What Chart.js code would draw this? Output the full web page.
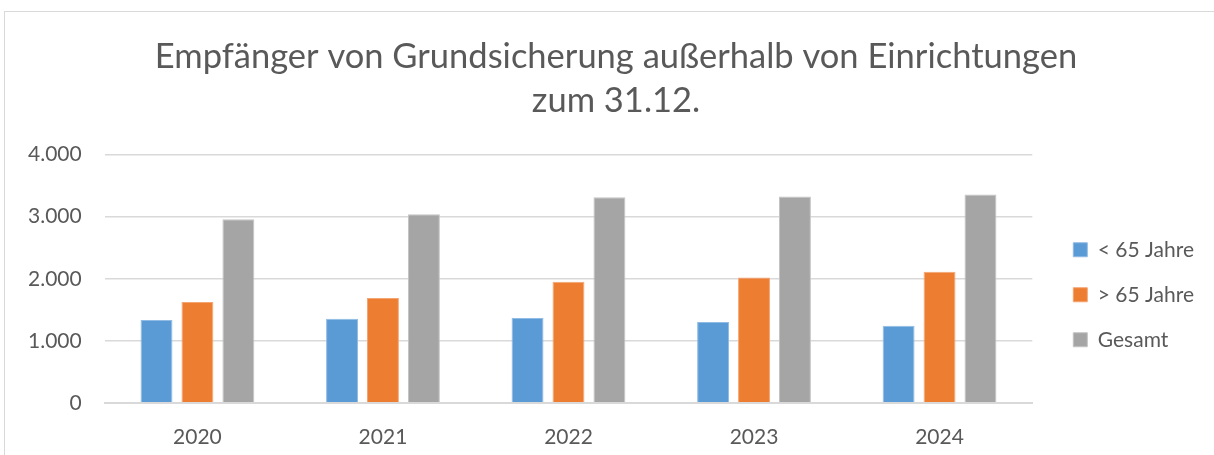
<!DOCTYPE html>
<html lang="de">
<head>
<meta charset="UTF-8">
<title>Grundsicherung außerhalb von Einrichtungen</title>
<script src="https://cdn.jsdelivr.net/npm/chart.js@4.4.0/dist/chart.umd.min.js"></script>
<style>
    body { margin: 0; background: #fff; }
    #rahmen {
        position: absolute; left: 4px; top: 11px; width: 1212px; height: 450px;
        border: 1px solid #d9d9d9; box-sizing: border-box;
    }
    #wrap { position: absolute; left: 0; top: 0; width: 1214px; height: 455px; }
</style>
</head>
<body>
<div id="rahmen"></div>
<div id="wrap"><canvas id="chart"></canvas></div>
<script>
    // Werte
    const jahre = ['2020', '2021', '2022', '2023', '2024'];
    const unter65 = [1334, 1355, 1367, 1302, 1242];
    const ueber65 = [1626, 1690, 1950, 2019, 2112];
    const gesamt = [2959, 3040, 3315, 3326, 3358];

    const grau = '#595959';
    const schrift = "Lato, 'Open Sans', sans-serif";

    Chart.defaults.font.family = schrift;
    Chart.defaults.color = grau;

    function serie(label, data, farbe, rand) {
        return {
            label: label,
            data: data,
            backgroundColor: farbe,
            borderColor: rand,
            borderWidth: 1,
            categoryPercentage: 0.662,
            barPercentage: 0.78
        };
    }

    // Legende und Titel etwas nach rechts schieben (wie im Original)
    const versatz = {
        id: 'versatz',
        afterLayout(chart) {
            chart.legend.left += 17;
            chart.legend.right += 17;
            chart.titleBlock.left += 20;
            chart.titleBlock.right += 20;
        }
    };

    new Chart(document.getElementById('chart'), {
        type: 'bar',
        data: {
            labels: jahre,
            datasets: [
                serie('< 65 Jahre', unter65, '#5b9bd5', '#8fbbe4'),
                serie('> 65 Jahre', ueber65, '#ed7d31', '#f4a572'),
                serie('Gesamt', gesamt, '#a5a5a5', '#c4c4c4')
            ]
        },
        plugins: [versatz],
        options: {
            responsive: true,
            maintainAspectRatio: false,
            animation: false,
            layout: { padding: { left: 5, right: 27, top: 0, bottom: -9 } },
            plugins: {
                title: {
                    display: true,
                    text: ['Empfänger von Grundsicherung außerhalb von Einrichtungen', 'zum 31.12.'],
                    color: grau,
                    font: { size: 34.5, weight: 'normal', lineHeight: 1.3 },
                    padding: { top: 34, bottom: 31 }
                },
                legend: {
                    position: 'right',
                    fullSize: false,
                    title: {
                        display: true,
                        text: ' ',
                        font: { size: 10, lineHeight: 1.2 },
                        padding: { top: 20, bottom: 0 }
                    },
                    labels: {
                        boxWidth: 14,
                        boxHeight: 14,
                        padding: 24,
                        color: grau,
                        font: { size: 21 }
                    }
                },
                tooltip: { enabled: false }
            },
            scales: {
                x: {
                    grid: { display: false },
                    border: { color: '#d9d9d9', width: 2 },
                    ticks: { padding: 14, font: { size: 21 }, color: grau }
                },
                y: {
                    min: 0,
                    max: 4000,
                    grid: { color: '#d9d9d9', lineWidth: 1.5, drawTicks: false },
                    border: { display: false },
                    ticks: {
                        stepSize: 1000,
                        padding: 23,
                        font: { size: 21 },
                        color: grau,
                        callback: v => v.toLocaleString('de-DE')
                    }
                }
            }
        }
    });
</script>
</body>
</html>
